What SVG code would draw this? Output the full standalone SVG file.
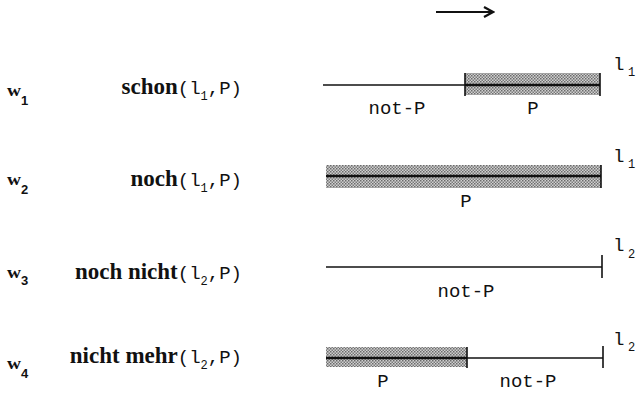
<svg xmlns="http://www.w3.org/2000/svg" width="637" height="393" viewBox="0 0 637 393">
<style>
.w{font-family:"Liberation Serif",serif;font-weight:bold;font-size:17px;fill:#111}
.ws{font-family:"Liberation Sans",sans-serif;font-weight:bold;font-size:13px;fill:#111}
.fn{font-family:"Liberation Serif",serif;font-size:23px;fill:#111}
.b{font-weight:bold}
.c{font-family:"Liberation Mono",monospace;font-size:19px;font-weight:normal}
.cs{font-family:"Liberation Mono",monospace;font-size:12px;font-weight:normal}
.lab{font-family:"Liberation Mono",monospace;font-size:19px;fill:#111;text-anchor:middle}
.pt{font-family:"Liberation Mono",monospace;font-size:19px;fill:#111}
.pts{font-family:"Liberation Mono",monospace;font-size:12px;fill:#111}
.ln{stroke:#111;stroke-width:1.6;fill:none}
.lnb{stroke:#111;stroke-width:2.4;fill:none}
.tk{stroke:#111;stroke-width:1.6}
.sh{fill:url(#dots)}
</style>
<defs>
<pattern id="dots" width="3" height="3" patternUnits="userSpaceOnUse">
<rect width="3" height="3" fill="#d0d0d0"/>
<rect width="1.5" height="1.5" fill="#6a6a6a"/>
<rect x="1.5" y="1.5" width="1.5" height="1.5" fill="#7a7a7a"/>
</pattern>
<marker id="arr" markerWidth="12" markerHeight="12" refX="10" refY="6" orient="auto" markerUnits="userSpaceOnUse">
<path d="M1,1 L10,6 L1,11" fill="none" stroke="#111" stroke-width="2.2"/>
</marker>
</defs>

<g id="direction">
<line x1="436" y1="12" x2="493" y2="12" stroke="#111" stroke-width="2.2" marker-end="url(#arr)"/>
</g>

<g id="row1">
<text class="w" x="7" y="96" textLength="14" lengthAdjust="spacingAndGlyphs">w</text><text class="ws" x="21" y="105">1</text>
<text class="fn" x="242" y="94" text-anchor="end"><tspan class="b">schon</tspan><tspan class="c">(l</tspan><tspan class="cs" dy="6">1</tspan><tspan class="c" dy="-6">,P)</tspan></text>
<rect class="sh" x="465" y="73" width="135" height="22"/>
<line class="ln" x1="323" y1="85" x2="465" y2="85"/>
<line class="lnb" x1="465" y1="85" x2="600" y2="85"/>
<line class="tk" x1="465" y1="73" x2="465" y2="96"/>
<line class="tk" x1="600" y1="73" x2="600" y2="96"/>
<text class="lab" x="397" y="114">not-P</text>
<text class="lab" x="533" y="114">P</text>
<text class="pt" x="613" y="70">l</text><text class="pts" x="628" y="76">1</text>
</g>

<g id="row2">
<text class="w" x="7" y="185" textLength="14" lengthAdjust="spacingAndGlyphs">w</text><text class="ws" x="21" y="194">2</text>
<text class="fn" x="242" y="186" text-anchor="end"><tspan class="b">noch</tspan><tspan class="c">(l</tspan><tspan class="cs" dy="6">1</tspan><tspan class="c" dy="-6">,P)</tspan></text>
<rect class="sh" x="326" y="165" width="275" height="23"/>
<line class="lnb" x1="326" y1="176" x2="601" y2="176"/>
<line class="tk" x1="601" y1="165" x2="601" y2="188"/>
<text class="lab" x="466" y="207">P</text>
<text class="pt" x="613" y="162">l</text><text class="pts" x="628" y="168">1</text>
</g>

<g id="row3">
<text class="w" x="7" y="278" textLength="14" lengthAdjust="spacingAndGlyphs">w</text><text class="ws" x="21" y="285">3</text>
<text class="fn" x="242" y="279" text-anchor="end"><tspan class="b">noch nicht</tspan><tspan class="c">(l</tspan><tspan class="cs" dy="6">2</tspan><tspan class="c" dy="-6">,P)</tspan></text>
<line class="ln" x1="326" y1="267" x2="602" y2="267"/>
<line class="tk" x1="602" y1="255" x2="602" y2="278"/>
<text class="lab" x="466" y="297">not-P</text>
<text class="pt" x="613" y="251">l</text><text class="pts" x="628" y="258">2</text>
</g>

<g id="row4">
<text class="w" x="7" y="369" textLength="14" lengthAdjust="spacingAndGlyphs">w</text><text class="ws" x="21" y="378">4</text>
<text class="fn" x="242" y="363" text-anchor="end"><tspan class="b">nicht mehr</tspan><tspan class="c">(l</tspan><tspan class="cs" dy="6">2</tspan><tspan class="c" dy="-6">,P)</tspan></text>
<rect class="sh" x="326" y="347" width="141" height="20"/>
<line class="lnb" x1="326" y1="358" x2="467" y2="358"/>
<line class="ln" x1="467" y1="358" x2="603" y2="358"/>
<line class="tk" x1="467" y1="347" x2="467" y2="368"/>
<line class="tk" x1="603" y1="346" x2="603" y2="368"/>
<text class="lab" x="383" y="387">P</text>
<text class="lab" x="528" y="387">not-P</text>
<text class="pt" x="613" y="345">l</text><text class="pts" x="628" y="351">2</text>
</g>
</svg>
